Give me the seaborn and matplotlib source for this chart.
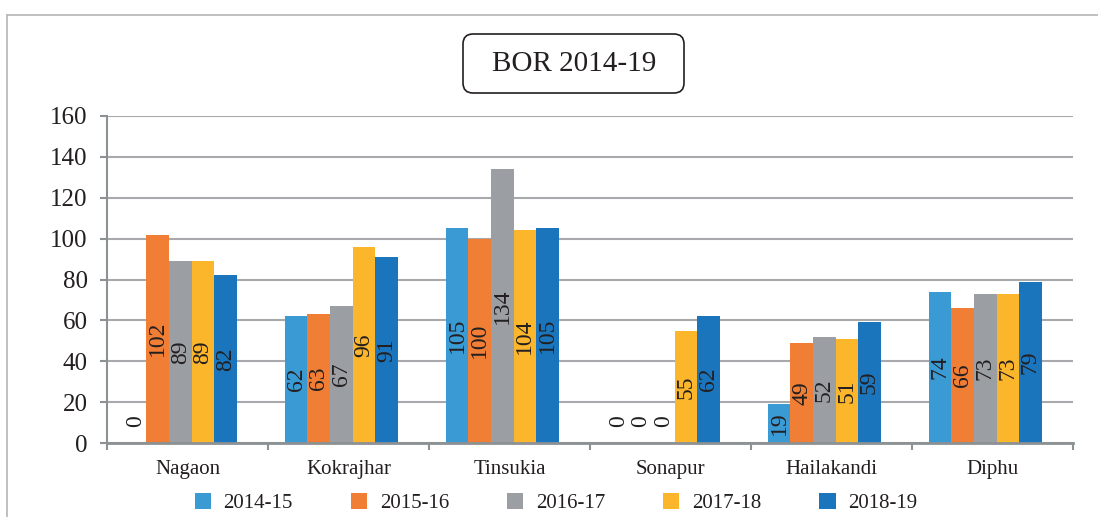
import matplotlib
matplotlib.use("Agg")
import matplotlib.pyplot as plt
import matplotlib.patches as mpatches
import matplotlib.lines as mlines
import matplotlib.transforms as mtransforms
import seaborn as sns
import pandas as pd
import numpy as np

categories = ["Nagaon", "Kokrajhar", "Tinsukia", "Sonapur", "Hailakandi", "Diphu"]
years = ["2014-15", "2015-16", "2016-17", "2017-18", "2018-19"]
v_2014_15 = [0, 62, 105, 0, 19, 74]
v_2015_16 = [102, 63, 100, 0, 49, 66]
v_2016_17 = [89, 67, 134, 0, 52, 73]
v_2017_18 = [89, 96, 104, 55, 51, 73]
v_2018_19 = [82, 91, 105, 62, 59, 79]
title = "BOR 2014-19"
yticks = [0, 20, 40, 60, 80, 100, 120, 140, 160]
colors = ["#3A9AD4", "#F07E34", "#9B9FA3", "#FBB62B", "#1B75BC"]

series = [v_2014_15, v_2015_16, v_2016_17, v_2017_18, v_2018_19]
rows = []
for y, vals in zip(years, series):
    for c, v in zip(categories, vals):
        rows.append({"District": c, "Year": y, "Value": v})
df = pd.DataFrame(rows)

sns.set_theme(style="white")
plt.rcParams["font.family"] = ["Liberation Serif", "DejaVu Serif"]
TEXT = "#231f20"
GRID = "#a7a9ac"
AXC = "#8c9194"

fig = plt.figure(figsize=(10.98, 5.17), dpi=100)
ax = fig.add_axes([107 / 1098, 1 - 443 / 517, (1073 - 107) / 1098, (443 - 116) / 517])

sns.barplot(data=df, x="District", y="Value", hue="Year", order=categories,
            hue_order=years, palette=colors, saturation=1, width=0.7,
            errorbar=None, ax=ax, legend=True, linewidth=0)

# bars sit slightly left of each category centre in the reference
shift = 0.045
n = len(categories)
ax.set_ylim(0, 160)
ax.set_xlim(-0.5 + shift, n - 0.5 + shift)
ax.set_yticks(yticks)
ax.set_yticklabels([str(t) for t in yticks], fontsize=18, color=TEXT)
ax.yaxis.grid(True, color=GRID, linewidth=1.5)
ax.set_axisbelow(True)
ax.set_xlabel("")
ax.set_ylabel("")

ax.set_xticks(np.arange(n) + shift)
ax.set_xticklabels(categories, fontsize=15, color=TEXT)
ax.set_xticks(np.arange(-0.5, n, 1.0) + shift, minor=True)
ax.tick_params(axis="x", which="major", length=0, pad=12)
ax.tick_params(axis="x", which="minor", length=5, width=1.5, color=AXC, direction="out", bottom=True)
ax.tick_params(axis="y", which="major", length=5, width=1.5, color=AXC, direction="out", left=True, pad=9)

for s in ["top", "right"]:
    ax.spines[s].set_visible(False)
ax.spines["left"].set_color(AXC)
ax.spines["left"].set_linewidth(1.5)
ax.spines["bottom"].set_color(AXC)
ax.spines["bottom"].set_linewidth(2)

# bar value labels
for cont in ax.containers:
    for p in cont.patches if hasattr(cont, "patches") else cont:
        h = p.get_height()
        xc = p.get_x() + p.get_width() / 2
        lbl = f"{h:.0f}"
        if h > 0:
            ax.text(xc, h / 2, lbl, rotation=90, ha="center", va="center",
                    fontsize=17, color=TEXT)
        else:
            ax.annotate(lbl, xy=(xc, 0), xytext=(0, 16), textcoords="offset points",
                        rotation=90, ha="center", va="center", fontsize=17, color=TEXT)

# legend
handles, labels = ax.get_legend_handles_labels()
ax.legend_.remove()
fig.legend(handles, labels, loc="center", bbox_to_anchor=(556 / 1098, 1 - 503 / 517),
           ncol=5, frameon=False, fontsize=15, handlelength=0.77, handleheight=0.77,
           handletextpad=0.6, columnspacing=2.8, labelcolor=TEXT)

# title box
idt = mtransforms.IdentityTransform()
box = mpatches.FancyBboxPatch((463, 517 - 93), 221, 59,
                              boxstyle="round,pad=0,rounding_size=10",
                              transform=idt, facecolor="white", edgecolor="#231f20",
                              linewidth=1.2)
fig.patches.append(box)
fig.text(574 / 1098, 1 - 64 / 517, title, ha="center", va="center", fontsize=21, color=TEXT)

# outer border
fig.lines.append(mlines.Line2D([7, 1098], [517 - 15, 517 - 15], transform=idt, color="#b5b5b5", linewidth=1.2))
fig.lines.append(mlines.Line2D([7, 7], [517 - 15, 0], transform=idt, color="#b5b5b5", linewidth=1.2))

fig.savefig("out.png", dpi=100)
